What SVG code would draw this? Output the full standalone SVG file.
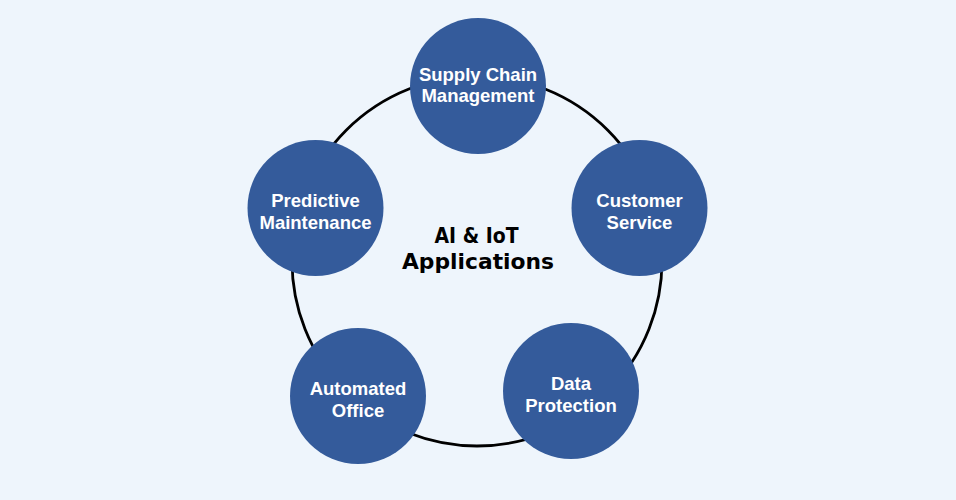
<svg xmlns="http://www.w3.org/2000/svg" width="956" height="500" viewBox="0 0 956 500">
  <style>
    .node { fill: #345B9B; }
    .lbl { font-family: "Liberation Sans", Arial, sans-serif; font-weight: bold; font-size: 18.5px; fill: #FFFFFF; text-anchor: middle; }
    .title { font-family: "DejaVu Sans", "Liberation Sans", sans-serif; font-weight: bold; font-size: 21.5px; fill: #000000; text-anchor: middle; }
    .ring { fill: none; stroke: #000000; stroke-width: 2.8; }
  </style>
  <rect width="956" height="500" fill="#EEF5FC"/>
  <g id="connectors">
    <circle class="ring" cx="477" cy="261" r="185"/>
  </g>
  <g id="center-title">
    <text class="title" x="476.5" y="243" textLength="84" lengthAdjust="spacingAndGlyphs">AI &amp; IoT</text>
    <text class="title" x="478" y="269" textLength="152" lengthAdjust="spacingAndGlyphs">Applications</text>
  </g>
  <g id="node-supply-chain">
    <circle class="node" cx="478" cy="86" r="68"/>
    <text class="lbl" x="478" y="81">Supply Chain</text>
    <text class="lbl" x="478" y="102">Management</text>
  </g>
  <g id="node-customer-service">
    <circle class="node" cx="639.5" cy="208" r="68"/>
    <text class="lbl" x="639.5" y="207">Customer</text>
    <text class="lbl" x="639.5" y="229">Service</text>
  </g>
  <g id="node-data-protection">
    <circle class="node" cx="571" cy="391" r="68"/>
    <text class="lbl" x="571" y="390">Data</text>
    <text class="lbl" x="571" y="412">Protection</text>
  </g>
  <g id="node-automated-office">
    <circle class="node" cx="358" cy="396" r="68"/>
    <text class="lbl" x="358" y="395">Automated</text>
    <text class="lbl" x="358" y="417">Office</text>
  </g>
  <g id="node-predictive-maintenance">
    <circle class="node" cx="315.5" cy="208" r="68"/>
    <text class="lbl" x="315.5" y="207">Predictive</text>
    <text class="lbl" x="315.5" y="229">Maintenance</text>
  </g>
</svg>
